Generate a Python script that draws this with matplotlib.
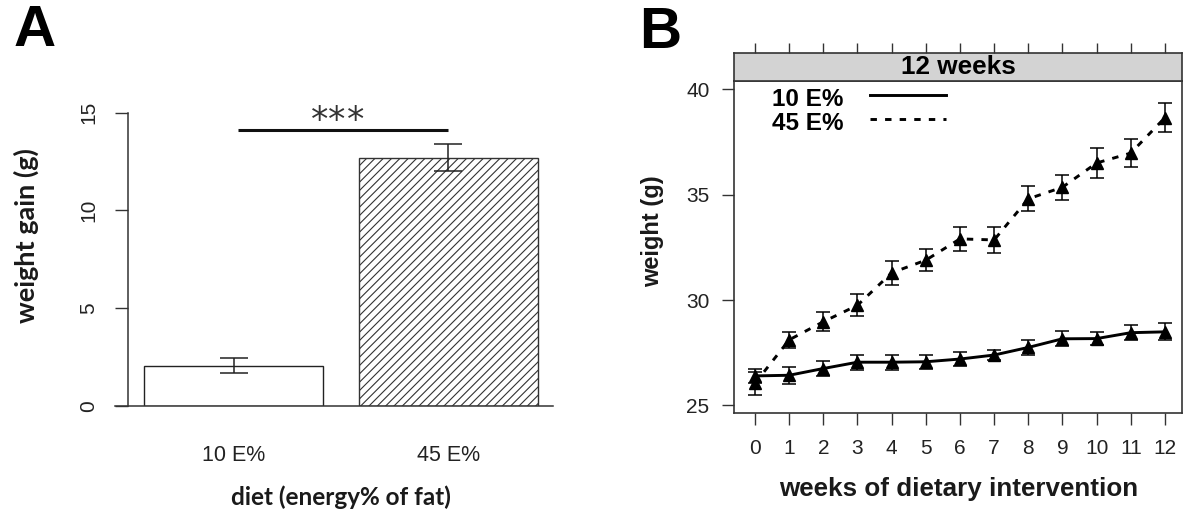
import matplotlib
matplotlib.use("Agg")
import matplotlib.pyplot as plt
import numpy as np

plt.rcParams['hatch.linewidth'] = 0.8

# ---------------- data ----------------
# Panel A
diet_groups = ["10 E%", "45 E%"]
weight_gain = [2.07, 12.7]
weight_gain_sem = [0.40, 0.68]
sig_level = 14.11
gain_ticks = [0, 5, 10, 15]

# Panel B
weeks = list(range(13))
low_fat_mean = [26.40, 26.43, 26.75, 27.05, 27.05, 27.07, 27.20, 27.39, 27.75, 28.16, 28.17, 28.45, 28.49]
low_fat_sem = [0.34, 0.40, 0.36, 0.36, 0.36, 0.34, 0.34, 0.25, 0.37, 0.36, 0.32, 0.36, 0.40]
high_fat_mean = [26.05, 28.11, 28.97, 29.75, 31.29, 31.89, 32.90, 32.85, 34.80, 35.35, 36.50, 36.97, 38.65]
high_fat_sem = [0.55, 0.37, 0.44, 0.52, 0.58, 0.52, 0.58, 0.60, 0.60, 0.60, 0.70, 0.67, 0.68]
weight_ticks = [25, 30, 35, 40]
series_labels = ["10 E%", "45 E%"]

# ---------------- layout helpers ----------------
W, H = 1185, 513
fig = plt.figure(figsize=(W / 100, H / 100), dpi=100)


def px_axes(left, top, right, bottom, **kw):
    return fig.add_axes([left / W, 1 - bottom / H, (right - left) / W, (bottom - top) / H], **kw)


def ftext(x, y, s, **kw):
    return fig.text(x / W, 1 - y / H, s, **kw)


SANS = "Liberation Sans"
CAL = "Lato"

# ---------------- Panel A ----------------
axA = px_axes(128.3, 112.7, 553, 406)
xpos = np.arange(len(diet_groups))
axA.bar(xpos[0], weight_gain[0], width=0.834, color="white", edgecolor="#222222", linewidth=1.0, zorder=2)
axA.bar(xpos[1], weight_gain[1], width=0.834, color="white", edgecolor="#333333", hatch="////",
        linewidth=1.0, zorder=2)
axA.errorbar(xpos, weight_gain, yerr=weight_gain_sem, fmt="none", ecolor="#222222",
             elinewidth=1.1, capsize=10.3, capthick=1.1, zorder=3)
axA.set_xlim(-0.491, 1.487)
axA.set_ylim(0, 15)
for s in ["top", "right", "bottom"]:
    axA.spines[s].set_visible(False)
axA.spines["left"].set_color("#333333")
axA.spines["left"].set_linewidth(1.1)
axA.axhline(0, xmin=-0.031, xmax=1.0, color="#333333", lw=1.1, clip_on=False, zorder=4)
axA.set_yticks(gain_ticks)
axA.set_yticklabels([str(t) for t in gain_ticks], rotation=90, va="center", ha="right",
                    fontsize=15, family=SANS, color="#222222")
axA.tick_params(axis="y", length=9.4, width=1.0, color="#333333", pad=12)
axA.set_xticks(xpos)
axA.set_xticklabels(diet_groups, fontsize=15.5, family=SANS, color="#222222")
axA.tick_params(axis="x", length=0, pad=28)
# significance
axA.plot([0.021, 0.996], [sig_level, sig_level], color="#111111", lw=2.2, solid_capstyle="butt")
for sx in [0.398, 0.481, 0.566]:
    axA.text(sx, 14.6, "*", ha="center", va="center", fontsize=25, color="#333333",
             family="DejaVu Sans")

ftext(26, 236, "weight gain (g)", rotation=90, ha="center", va="center", fontsize=19.5,
      fontweight="bold", family=CAL, color="#1a1a1a")
ftext(341, 497, "diet (energy% of fat)", ha="center", va="center", fontsize=17.5,
      fontweight="bold", family=CAL, color="#1a1a1a")
ftext(34.5, 31, "A", ha="center", va="center", fontsize=42, fontweight="bold", family=SANS)

# ---------------- Panel B ----------------
axB = px_axes(734, 81, 1182, 413)
axB.errorbar(weeks, low_fat_mean, yerr=low_fat_sem, fmt="none", ecolor="black",
             elinewidth=1.1, capsize=4.7, capthick=1.1, zorder=3)
axB.errorbar(weeks, high_fat_mean, yerr=high_fat_sem, fmt="none", ecolor="black",
             elinewidth=1.1, capsize=4.7, capthick=1.1, zorder=3)
axB.plot(weeks, low_fat_mean, color="black", lw=2.1, marker="^", ms=9, zorder=4)
axB.plot(weeks, high_fat_mean, color="black", lw=2.1, linestyle=(0, (2.2, 2.8)),
         marker="^", ms=9, zorder=4)
axB.set_xlim(-0.615, 12.5)
axB.set_ylim(24.64, 40.39)
for s in axB.spines.values():
    s.set_color("#333333")
    s.set_linewidth(1.2)
axB.set_xticks(weeks)
axB.set_xticklabels([str(w) for w in weeks], fontsize=15, family=SANS, color="#222222")
axB.set_yticks(weight_ticks)
axB.set_yticklabels([str(t) for t in weight_ticks], fontsize=15, family=SANS, color="#222222")
axB.tick_params(axis="x", length=8.5, width=1.0, color="#333333", pad=10)
axB.tick_params(axis="y", length=8.6, width=1.0, color="#333333", pad=9)

# legend (lattice key style)
leg_text_x = (771.7 - 734) / 448
leg_line_x0 = (870 - 734) / 448
leg_line_x1 = (946 - 734) / 448
leg_y = [1 - (100 - 81) / 332, 1 - (123 - 81) / 332]
line_y = [1 - (95 - 81) / 332, 1 - (119 - 81) / 332]
styles = ["-", (0, (2.2, 2.8))]
for lab, ty, ly, st in zip(series_labels, leg_y, line_y, styles):
    axB.text(leg_text_x, ty, lab, transform=axB.transAxes, ha="left", va="center",
             fontsize=17.5, fontweight="bold", family=SANS)
    axB.plot([leg_line_x0, leg_line_x1], [ly, ly], transform=axB.transAxes, color="black",
             lw=2.1, linestyle=st)

# strip
axS = px_axes(734, 52.7, 1182, 81)
axS.set_facecolor("#d3d3d3")
axS.set_xlim(axB.get_xlim())
axS.set_ylim(0, 1)
for s in axS.spines.values():
    s.set_color("#333333")
    s.set_linewidth(1.2)
axS.set_yticks([])
axS.set_xticks(weeks)
axS.tick_params(axis="x", bottom=False, top=True, labelbottom=False, labeltop=False,
                length=7.5, width=1.0, color="#333333")
axS.text(0.5, 0.5, "12 weeks", transform=axS.transAxes, ha="center", va="center",
         fontsize=18.8, fontweight="bold", family=SANS)

ftext(653, 231.5, "weight (g)", rotation=90, ha="center", va="center", fontsize=17,
      fontweight="bold", family=SANS, color="#1a1a1a")
ftext(959, 489, "weeks of dietary intervention", ha="center", va="center", fontsize=18.7,
      fontweight="bold", family=SANS, color="#1a1a1a")
ftext(660, 33, "B", ha="center", va="center", fontsize=42, fontweight="bold", family=SANS)

fig.savefig("out.png", dpi=100)
